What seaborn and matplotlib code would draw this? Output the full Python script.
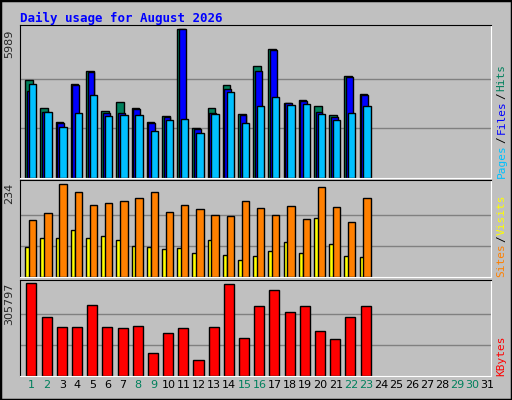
import numpy as np
import seaborn as sns
import matplotlib.pyplot as plt
from matplotlib.patches import Rectangle

days = list(range(1, 32))
hits = [3952, 2811, 2241, 3789, 4318, 2689, 3056, 2811, 2241, 2485, 5989, 1996,
        2811, 3748, 2567, 4522, 5215, 3015, 3137, 2893, 2526, 4115, 3381]
files = [3517, 2648, 2200, 3748, 4278, 2607, 2607, 2770, 2200, 2444, 5989, 1956,
         2607, 3585, 2526, 4318, 5174, 3015, 3096, 2648, 2444, 4074, 3341]
pages = [3789, 2648, 2037, 2607, 3341, 2485, 2526, 2526, 1915, 2322, 2363, 1833,
         2567, 3463, 2200, 2893, 3259, 2933, 2974, 2567, 2322, 2607, 2893]
sites = [142, 160, 234, 214, 181, 186, 191, 199, 214, 162, 181, 170,
         155, 153, 191, 174, 155, 178, 145, 226, 176, 137, 199]
visits = [76, 97, 97, 117, 97, 104, 92, 79, 76, 71, 74, 59,
          94, 56, 43, 53, 64, 89, 61, 148, 84, 53, 51]
kbytes = [305797, 192000, 161800, 161800, 232100, 161800, 158500, 165200, 74800,
          141700, 158500, 51300, 161800, 302400, 125000, 228800, 282300, 208700,
          228800, 148400, 121600, 192000, 228800]
weekend = {1, 2, 8, 9, 15, 16, 22, 23, 29, 30}

sns.set_style("white")
plt.rcParams['font.family'] = ['DejaVu Sans']
fig = plt.figure(figsize=(5.12, 4.0), dpi=100, facecolor="#C0C0C0")
fig.patches.append(Rectangle((0, 0), 1, 1, transform=fig.transFigure, fill=False,
                             edgecolor="black", linewidth=2.5))

BG = "#C0C0C0"
GRID = "#808080"
L, W = 0.039, 0.92


def panel(bottom, height, vmax, scale=1.0):
    ax = fig.add_axes([L, bottom, W, height], facecolor=BG)
    ax.set_xlim(0, 31)
    ax.set_ylim(0, vmax * scale)
    for f in (1 / 3, 2 / 3):
        ax.axhline(vmax * f, color=GRID, linewidth=1, zorder=0)
    ax.set_xticks([])
    ax.set_yticks([])
    for s in ("top", "left"):
        ax.spines[s].set_color("black")
    for s in ("bottom", "right"):
        ax.spines[s].set_color("white")
    return ax


n = len(hits)
x = np.arange(n)
kw = dict(align="edge", edgecolor="black", linewidth=1)

ax1 = panel(0.555, 0.3825, 5989, 1.03)
ax1.bar(x + 0.35, hits, width=0.5, color="#00805C", **kw)
ax1.bar(x + 0.45, files, width=0.45, color="#0000FF", **kw)
ax1.bar(x + 0.6, pages, width=0.48, color="#00C0FF", **kw)

ax2 = panel(0.3075, 0.2425, 234, 1.04)
ax2.bar(x + 0.35, visits, width=0.3, color="#FFFF00", **kw)
ax2.bar(x + 0.6, sites, width=0.48, color="#FF8000", **kw)

ax3 = panel(0.06, 0.24, 305797, 1.03)
ax3.bar(x + 0.42, kbytes, width=0.66, color="#FF0000", **kw)

mono = "DejaVu Sans Mono"
fig.text(0.039, 0.955, "Daily usage for August 2026", color="#0000FF",
         fontsize=9, fontweight="bold", family=mono, va="center")
for ax, lab in ((ax1, "5989"), (ax2, "234"), (ax3, "305797")):
    ax.text(-0.012, 1 / ax.get_ylim()[1] * float(lab) if False else 0.97, lab,
            transform=ax.transAxes, rotation=90, ha="right", va="top", fontsize=8)


def right_label(ax, parts):
    y = 0.0
    t = ax.transAxes
    for txt, col in parts:
        fig.canvas.draw()
        tt = ax.text(1.012, y, txt, color=col, rotation=90, transform=t,
                     ha="left", va="bottom", fontsize=8, family=mono)
        bb = tt.get_window_extent(renderer=fig.canvas.get_renderer())
        y += bb.height / ax.get_window_extent().height + 0.01


right_label(ax1, [("Pages", "#00C0FF"), ("/", "black"), ("Files", "#0000FF"),
                  ("/", "black"), ("Hits", "#00805C")])
right_label(ax2, [("Sites", "#FF8000"), ("/", "black"), ("Visits", "#FFFF00")])
right_label(ax3, [("KBytes", "#FF0000")])

for d in days:
    ax3.text(d - 1 + 0.78, -0.04, str(d), transform=ax3.get_xaxis_transform(),
             ha="center", va="top", fontsize=8,
             color="#00805C" if d in weekend else "black")

fig.savefig("out.png", dpi=100, facecolor=fig.get_facecolor())
